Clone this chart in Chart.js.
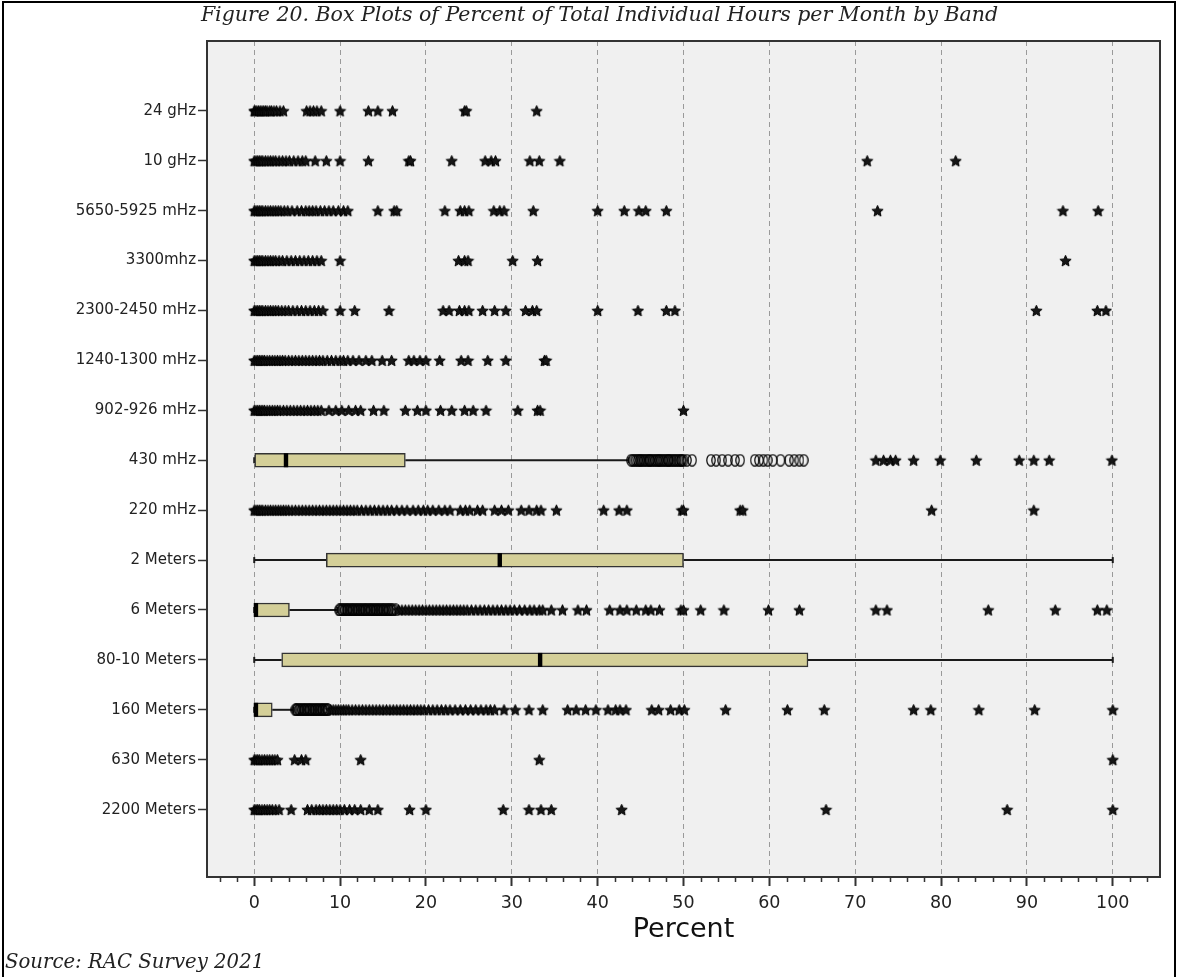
<!DOCTYPE html>
<html>
<head>
<meta charset="utf-8">
<title>Percent of Total Individual Hours per Month by Band</title>
<script src="https://cdn.jsdelivr.net/npm/chart.js@4.4.1/dist/chart.umd.min.js"></script>
<style>
    html, body { margin: 0; padding: 0; background: #fff; }
    #wrap { position: relative; width: 1177px; height: 977px; overflow: hidden; }
    #frame { position: absolute; left: 2px; top: 1px; width: 1174px; height: 1000px; border: 2px solid #000; box-sizing: border-box; }
    #fig-title { position: absolute; top: 2px; left: 22px; width: 1155px; text-align: center;
                 font: italic 20.5px 'DejaVu Serif', serif; color: #222; white-space: nowrap; }
    #fig-source { position: absolute; left: 5px; top: 950px; font: italic 19.7px 'DejaVu Serif', serif; color: #222; white-space: nowrap; }
    canvas { position: absolute; left: 0; top: 0; }
</style>
</head>
<body>
<div id="wrap">
    <canvas id="bandBoxChart" width="1177" height="977"></canvas>
    <div id="frame"></div>
    <div id="fig-title">Figure 20. Box Plots of Percent of Total Individual Hours per Month by Band</div>
    <div id="fig-source">Source: RAC Survey 2021</div>
</div>

<script>
// --- Data ---

const bands = ['24 gHz', '10 gHz', '5650-5925 mHz', '3300mhz', '2300-2450 mHz', '1240-1300 mHz',
    '902-926 mHz', '430 mHz', '220 mHz', '2 Meters', '6 Meters', '80-10 Meters', '160 Meters',
    '630 Meters', '2200 Meters'];

// box statistics per band (null = box collapsed at zero)
const boxMin    = [null, null, null, null, null, null, null, 0,    null, 0,    0,   0,    0,   null, null];
const boxQ1     = [null, null, null, null, null, null, null, 0,    null, 8.4,  0,   3.2,  0,   null, null];
const boxMedian = [null, null, null, null, null, null, null, 3.7,  null, 28.6, 0.2, 33.3, 0.2, null, null];
const boxQ3     = [null, null, null, null, null, null, null, 17.6, null, 50,   4.1, 64.5, 2.1, null, null];
const boxMax    = [null, null, null, null, null, null, null, 43.6, null, 100,  9.7, 100,  4.6, null, null];

// extreme values (stars)
const stars24gHz = [0, 0.1, 0.3, 0.5, 0.7, 0.9, 1.1, 1.3, 1.5, 1.8, 2.0, 2.3, 2.6, 3.0, 3.4, 6.1, 6.5, 6.9,
    7.3, 7.8, 10.0, 13.3, 14.4, 16.1, 24.5, 24.7, 32.9];
const stars10gHz = [0, 0.2, 0.4, 0.6, 0.8, 1.0, 1.3, 1.6, 1.9, 2.2, 2.5, 2.9, 3.3, 3.7, 4.1, 4.6, 5.1, 5.6,
    6.0, 7.1, 8.4, 10.0, 13.3, 18.0, 18.2, 23.0, 26.9, 27.6, 28.1, 32.1, 33.2, 35.6, 71.4, 81.7];
const stars5650 = [0, 0.2, 0.4, 0.6, 0.8, 1.0, 1.3, 1.6, 1.9, 2.2, 2.5, 2.8, 3.1, 3.5, 3.9, 4.4, 5.0, 5.5,
    6.0, 6.4, 6.8, 7.2, 7.7, 8.2, 8.7, 9.2, 9.8, 10.4, 10.9, 14.4, 16.3, 16.6, 22.2, 24.0, 24.5, 25.0, 27.9,
    28.6, 29.1, 32.5, 40.0, 43.1, 44.8, 45.6, 48.0, 72.6, 94.2, 98.3];
const stars3300 = [0, 0.2, 0.4, 0.6, 0.8, 1.0, 1.3, 1.6, 1.9, 2.2, 2.5, 2.9, 3.3, 3.8, 4.3, 4.8, 5.3, 5.8,
    6.3, 6.8, 7.3, 7.8, 10.0, 23.8, 24.5, 24.9, 30.1, 33.0, 94.5];
const stars2300 = [0, 0.2, 0.4, 0.6, 0.8, 1.0, 1.3, 1.6, 1.9, 2.2, 2.5, 2.8, 3.2, 3.6, 4.0, 4.5, 5.0, 5.5,
    6.0, 6.5, 7.0, 7.5, 8.0, 10.0, 11.7, 15.7, 22.0, 22.7, 23.9, 24.5, 25.0, 26.6, 28.0, 29.3, 31.6, 32.4,
    32.9, 40.0, 44.7, 48.0, 49.0, 91.1, 98.2, 99.2];
const stars1240 = [0, 0.2, 0.4, 0.6, 0.8, 1.0, 1.2, 1.5, 1.8, 2.1, 2.4, 2.7, 3.0, 3.3, 3.6, 4.0, 4.4, 4.8,
    5.2, 5.6, 6.0, 6.4, 6.8, 7.2, 7.6, 8.0, 8.5, 9.0, 9.5, 10.0, 10.4, 10.9, 11.5, 12.2, 13.0, 13.7, 14.9,
    16.0, 18.0, 18.6, 19.3, 20.0, 21.6, 24.1, 24.9, 27.2, 29.3, 33.8, 34.0];
const stars902 = [0, 0.2, 0.4, 0.6, 0.8, 1.0, 1.2, 1.5, 1.8, 2.1, 2.4, 2.7, 3.0, 3.4, 3.8, 4.2, 4.6, 5.0,
    5.4, 5.8, 6.2, 6.6, 7.0, 7.4, 7.8, 8.7, 9.5, 10.2, 11.0, 11.8, 12.4, 13.9, 15.1, 17.6, 19.0, 20.0, 21.7,
    23.0, 24.5, 25.5, 27.0, 30.7, 33.0, 33.3, 50.0];
const stars430 = [72.4, 73.3, 74.1, 74.7, 76.8, 79.9, 84.1, 89.1, 90.8, 92.6, 99.9];
const stars220 = [0, 0.2, 0.4, 0.6, 0.8, 1.0, 1.3, 1.6, 1.9, 2.2, 2.5, 2.8, 3.1, 3.4, 3.7, 4.0, 4.4, 4.8,
    5.2, 5.6, 6.0, 6.4, 6.8, 7.2, 7.6, 8.0, 8.4, 8.8, 9.2, 9.6, 10.0, 10.4, 10.8, 11.2, 11.6, 12.0, 12.5,
    13.0, 13.5, 14.0, 14.5, 15.0, 15.5, 16.0, 16.6, 17.2, 17.8, 18.5, 19.1, 19.7, 20.2, 20.8, 21.5, 22.2,
    22.8, 24.0, 24.6, 25.1, 26.0, 26.6, 28.0, 28.8, 29.6, 31.1, 32.0, 32.9, 33.4, 35.2, 40.7, 42.5, 43.4,
    49.8, 50.0, 56.6, 56.9, 78.9, 90.8];
const stars2m = [];
const stars6m = [16.8, 17.2, 17.6, 18.0, 18.4, 18.8, 19.2, 19.6, 20.0, 20.4, 20.8, 21.2, 21.6, 22.0, 22.4,
    22.8, 23.2, 23.6, 24.0, 24.4, 24.8, 25.3, 25.8, 26.3, 26.8, 27.3, 27.8, 28.3, 28.8, 29.3, 29.8, 30.3,
    30.9, 31.5, 32.1, 32.6, 33.2, 33.6, 34.6, 35.9, 37.7, 38.7, 41.4, 42.6, 43.4, 44.5, 45.6, 46.2, 47.2,
    49.7, 50.0, 52.0, 54.7, 59.9, 63.5, 72.4, 73.7, 85.5, 93.3, 98.2, 99.3];
const stars80m = [];
const stars160m = [8.9, 9.2, 9.5, 9.8, 10.1, 10.4, 10.7, 11.0, 11.4, 11.8, 12.2, 12.6, 13.0, 13.4, 13.8,
    14.2, 14.6, 15.0, 15.4, 15.8, 16.2, 16.6, 17.0, 17.4, 17.8, 18.2, 18.6, 19.0, 19.4, 19.8, 20.3, 20.8,
    21.3, 21.8, 22.3, 22.8, 23.4, 24.0, 24.6, 25.2, 25.8, 26.4, 27.0, 27.5, 28.0, 29.1, 30.4, 32.0, 33.6,
    36.5, 37.5, 38.6, 39.8, 41.2, 42.1, 42.6, 43.3, 46.3, 47.1, 48.5, 49.5, 50.1, 54.9, 62.1, 66.4, 76.8,
    78.8, 84.4, 90.9, 100.0];
const stars630m = [0, 0.2, 0.4, 0.6, 0.9, 1.2, 1.5, 1.8, 2.1, 2.4, 2.7, 4.7, 5.5, 6.0, 12.4, 33.2, 100.0];
const stars2200m = [0, 0.2, 0.4, 0.6, 0.9, 1.2, 1.5, 1.8, 2.1, 2.5, 2.9, 4.3, 6.2, 6.7, 7.2, 7.6, 8.0, 8.4,
    8.8, 9.2, 9.6, 10.0, 10.5, 11.1, 11.7, 12.4, 13.4, 14.4, 18.1, 20.0, 29.0, 32.0, 33.4, 34.6, 42.8, 66.6,
    87.7, 100.0];

// outliers (circles)
const circles430 = [43.9, 44.1, 44.3, 44.5, 44.7, 44.9, 45.0, 45.2, 45.4, 45.6, 45.8, 46.0, 46.1, 46.3, 46.5,
    46.7, 46.9, 47.1, 47.2, 47.4, 47.6, 47.8, 48.0, 48.2, 48.3, 48.5, 48.7, 48.9, 49.1, 49.3, 49.5, 49.7,
    49.8, 50.0, 50.4, 51.0, 53.2, 53.8, 54.5, 55.2, 56.0, 56.6, 58.3, 58.8, 59.3, 59.8, 60.4, 61.3, 62.3,
    62.9, 63.5, 64.0];
const circles6m = [9.9, 10.0, 10.2, 10.3, 10.5, 10.6, 10.8, 10.9, 11.1, 11.2, 11.4, 11.5, 11.7, 11.8, 12.0,
    12.1, 12.3, 12.4, 12.6, 12.7, 12.9, 13.0, 13.2, 13.3, 13.5, 13.6, 13.8, 13.9, 14.1, 14.2, 14.4, 14.5,
    14.7, 14.8, 15.0, 15.1, 15.3, 15.4, 15.6, 15.7, 15.9, 16.0, 16.2, 16.5];
const circles160m = [4.8, 4.9, 5.0, 5.2, 5.3, 5.5, 5.6, 5.8, 5.9, 6.1, 6.2, 6.4, 6.5, 6.7, 6.8, 7.0, 7.1,
    7.3, 7.4, 7.6, 7.7, 7.9, 8.0, 8.2, 8.3, 8.5, 8.6];

const starsByBand = [stars24gHz, stars10gHz, stars5650, stars3300, stars2300, stars1240, stars902, stars430,
    stars220, stars2m, stars6m, stars80m, stars160m, stars630m, stars2200m];
const circlesByBand = [[], [], [], [], [], [], [], circles430, [], [], circles6m, [], circles160m, [], []];

// axis
const xMin = -5.5;
const xMax = 105.5;
const xTickValues = [0, 10, 20, 30, 40, 50, 60, 70, 80, 90, 100];
const xMinorTicks = [-4, -2, 2, 4, 6, 8, 12, 14, 16, 18, 22, 24, 26, 28, 32, 34, 36, 38, 42, 44, 46, 48,
    52, 54, 56, 58, 62, 64, 66, 68, 72, 74, 76, 78, 82, 84, 86, 88, 92, 94, 96, 98, 102, 104];
const yMin = -1.4;
const yMax = 15.35;


// --- Marker shapes ---

function makeStar(size) {
    const c = document.createElement('canvas');
    c.width = size;
    c.height = size;
    const g = c.getContext('2d');
    const cx = size / 2, cy = size / 2 + 0.6;
    const outer = size / 2 - 0.6, inner = outer * 0.45;
    g.beginPath();
    for (let k = 0; k < 10; k++) {
        const a = -Math.PI / 2 + k * Math.PI / 5;
        const r = k % 2 ? inner : outer;
        g.lineTo(cx + r * Math.cos(a), cy + r * Math.sin(a));
    }
    g.closePath();
    g.fillStyle = '#161616';
    g.fill();
    g.strokeStyle = '#000';
    g.lineWidth = 1;
    g.stroke();
    return c;
}

function makeOval(w, h) {
    const c = document.createElement('canvas');
    c.width = w;
    c.height = h;
    const g = c.getContext('2d');
    g.beginPath();
    g.ellipse(w / 2, h / 2, w / 2 - 0.8, h / 2 - 0.8, 0, 0, Math.PI * 2);
    g.strokeStyle = '#000';
    g.lineWidth = 1.2;
    g.stroke();
    return c;
}

const starMarker = makeStar(13);
const ovalMarker = makeOval(10, 13);


// --- Datasets built from the arrays ---

const boxData = [];
bands.forEach((b, i) => {
    if (boxQ1[i] !== null) boxData.push({ x: [boxQ1[i], boxQ3[i]], y: i });
});

const starPoints = [];
starsByBand.forEach((vals, row) => vals.forEach(v => starPoints.push({ x: v, y: row })));

const circlePoints = [];
circlesByBand.forEach((vals, row) => vals.forEach(v => circlePoints.push({ x: v, y: row })));


// --- Plugins ---

const plotArea = {
    id: 'plotArea',
    beforeDraw(chart) {
        const { ctx, chartArea: a } = chart;
        ctx.save();
        ctx.fillStyle = '#f0f0f0';
        ctx.fillRect(a.left, a.top, a.right - a.left, a.bottom - a.top);
        ctx.restore();
    },
    afterDraw(chart) {
        const { ctx, chartArea: a } = chart;
        const xs = chart.scales.x;
        ctx.save();
        ctx.strokeStyle = '#333';
        ctx.lineWidth = 2;
        ctx.strokeRect(a.left, a.top, a.right - a.left, a.bottom - a.top);
        // minor ticks
        ctx.lineWidth = 1.5;
        ctx.beginPath();
        xMinorTicks.forEach(v => {
            const px = Math.round(xs.getPixelForValue(v)) + 0.5;
            ctx.moveTo(px, a.bottom);
            ctx.lineTo(px, a.bottom + 5);
        });
        ctx.stroke();
        ctx.restore();
    }
};

const boxDecor = {
    id: 'boxDecor',
    beforeDatasetsDraw(chart) {
        const { ctx } = chart;
        const xs = chart.scales.x, ys = chart.scales.y;
        ctx.save();
        ctx.strokeStyle = '#1a1a1a';
        ctx.lineWidth = 2;
        bands.forEach((b, i) => {
            if (boxQ1[i] === null) return;
            const y = ys.getPixelForValue(i);
            ctx.beginPath();
            ctx.moveTo(xs.getPixelForValue(boxMin[i]), y);
            ctx.lineTo(xs.getPixelForValue(boxQ1[i]), y);
            ctx.moveTo(xs.getPixelForValue(boxQ3[i]), y);
            ctx.lineTo(xs.getPixelForValue(boxMax[i]), y);
            ctx.stroke();
            // whisker end caps
            [boxMin[i], boxMax[i]].forEach(v => {
                const px = xs.getPixelForValue(v);
                ctx.beginPath();
                ctx.moveTo(px, y - 3);
                ctx.lineTo(px, y + 3);
                ctx.stroke();
            });
        });
        ctx.restore();
    },
    afterDatasetsDraw(chart) {
        const { ctx } = chart;
        const xs = chart.scales.x, ys = chart.scales.y;
        ctx.save();
        ctx.fillStyle = '#000';
        bands.forEach((b, i) => {
            if (boxMedian[i] === null) return;
            const y = ys.getPixelForValue(i);
            const px = xs.getPixelForValue(boxMedian[i]);
            ctx.fillRect(px - 2.2, y - 7, 4.4, 14);
        });
        ctx.restore();
    }
};


// --- Chart ---

const ctx = document.getElementById('bandBoxChart').getContext('2d');

new Chart(ctx, {
    type: 'scatter',
    data: {
        datasets: [
            {
                type: 'scatter',
                label: 'Extremes',
                data: starPoints,
                pointStyle: starMarker,
                pointRadius: 6,
                order: 1
            },
            {
                type: 'scatter',
                label: 'Outliers',
                data: circlePoints,
                pointStyle: ovalMarker,
                pointRadius: 6,
                order: 2
            },
            {
                type: 'bar',
                label: 'Boxes',
                indexAxis: 'y',
                data: boxData,
                backgroundColor: '#d4cf98',
                borderColor: '#333',
                borderWidth: 1.5,
                borderSkipped: false,
                barThickness: 14,
                order: 3
            }
        ]
    },
    options: {
        responsive: false,
        animation: false,
        devicePixelRatio: 1,
        layout: { padding: { top: 41, right: 17, bottom: 0, left: 0 } },
        plugins: {
            legend: { display: false },
            tooltip: { enabled: false }
        },
        scales: {
            x: {
                type: 'linear',
                position: 'bottom',
                min: xMin,
                max: xMax,
                offset: false,
                afterBuildTicks: s => { s.ticks = xTickValues.map(v => ({ value: v })); },
                afterFit: s => { s.height = 100; },
                grid: {
                    offset: false,
                    color: '#9a9a9a',
                    lineWidth: 1,
                    drawTicks: true,
                    tickLength: 9,
                    tickColor: '#333',
                    tickWidth: 2,
                    tickBorderDash: []
                },
                border: { display: false, dash: [5, 4] },
                ticks: {
                    font: { family: 'DejaVu Sans', size: 17.5 },
                    color: '#222',
                    padding: 7,
                    maxRotation: 0,
                    autoSkip: false
                },
                title: {
                    display: true,
                    text: 'Percent',
                    font: { family: 'DejaVu Sans', size: 27 },
                    color: '#111',
                    padding: { top: 0, bottom: 31 }
                }
            },
            y: {
                type: 'linear',
                reverse: true,
                min: yMin,
                max: yMax,
                offset: false,
                afterBuildTicks: s => { s.ticks = bands.map((b, i) => ({ value: i })); },
                afterFit: s => { s.width = 207; },
                grid: {
                    offset: false,
                    drawOnChartArea: false,
                    drawTicks: true,
                    tickLength: 9,
                    tickColor: '#333',
                    tickWidth: 1.5
                },
                border: { display: false },
                ticks: {
                    callback: v => bands[v],
                    font: { family: 'DejaVu Sans', size: 15 },
                    color: '#222',
                    padding: 2,
                    autoSkip: false
                }
            }
        }
    },
    plugins: [plotArea, boxDecor]
});
</script>
</body>
</html>
